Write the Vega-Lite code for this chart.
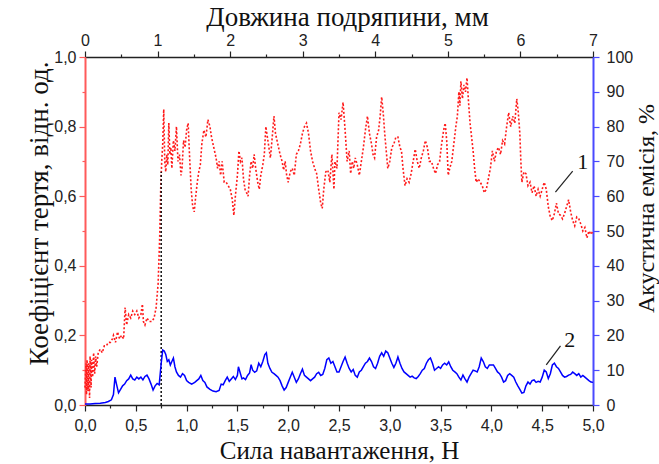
{
  "$schema": "https://vega.github.io/schema/vega-lite/v6.json",
  "width": 508,
  "height": 348,
  "autosize": "none",
  "padding": {"left": 85, "top": 57, "right": 66, "bottom": 59},
  "config": {
    "locale": {"number": {"decimal": ",", "thousands": " ", "grouping": [3], "currency": ["", ""]}},
    "view": {"stroke": null},
    "axis": {
      "grid": false,
      "labelFont": "Liberation Sans",
      "labelFontSize": 16,
      "labelColor": "#222222",
      "labelFlush": false,
      "labelOverlap": false,
      "titleFont": "Liberation Serif",
      "titleFontSize": 26,
      "titleFontWeight": "normal",
      "titleColor": "#111111",
      "domainColor": "#222222",
      "tickColor": "#222222",
      "domainWidth": 1.5,
      "tickWidth": 1.2,
      "tickSize": 6,
      "labelPadding": 3
    }
  },
  "datasets": {
    "cof": [
      {"n":0.00,"v":0.05},{"n":0.01,"v":0.12},{"n":0.015,"v":0.03},{"n":0.02,"v":0.13},{"n":0.03,"v":0.04},{"n":0.035,"v":0.12},{"n":0.045,"v":0.02},{"n":0.05,"v":0.14},{"n":0.06,"v":0.05},{"n":0.065,"v":0.13},{"n":0.075,"v":0.08},{"n":0.085,"v":0.15},{"n":0.095,"v":0.09},{"n":0.105,"v":0.14},{"n":0.115,"v":0.11},{"n":0.13,"v":0.15},{"n":0.15,"v":0.16},{"n":0.17,"v":0.15},{"n":0.19,"v":0.17},{"n":0.21,"v":0.17},{"n":0.23,"v":0.18},{"n":0.25,"v":0.18},{"n":0.27,"v":0.19},{"n":0.28,"v":0.20},{"n":0.30,"v":0.18},{"n":0.32,"v":0.21},{"n":0.34,"v":0.19},{"n":0.36,"v":0.20},{"n":0.38,"v":0.19},{"n":0.395,"v":0.28},{"n":0.41,"v":0.23},{"n":0.43,"v":0.26},{"n":0.45,"v":0.25},{"n":0.47,"v":0.27},{"n":0.49,"v":0.26},{"n":0.51,"v":0.27},{"n":0.53,"v":0.25},{"n":0.55,"v":0.26},{"n":0.565,"v":0.29},{"n":0.575,"v":0.24},{"n":0.59,"v":0.23},{"n":0.61,"v":0.25},{"n":0.63,"v":0.24},{"n":0.66,"v":0.24},{"n":0.68,"v":0.25},{"n":0.70,"v":0.28},{"n":0.72,"v":0.35},{"n":0.735,"v":0.48},{"n":0.745,"v":0.62},{"n":0.755,"v":0.70},{"n":0.765,"v":0.75},{"n":0.775,"v":0.85},{"n":0.785,"v":0.70},{"n":0.795,"v":0.67},{"n":0.805,"v":0.72},{"n":0.815,"v":0.69},{"n":0.825,"v":0.81},{"n":0.835,"v":0.72},{"n":0.845,"v":0.74},{"n":0.855,"v":0.68},{"n":0.87,"v":0.76},{"n":0.885,"v":0.73},{"n":0.90,"v":0.80},{"n":0.915,"v":0.70},{"n":0.93,"v":0.72},{"n":0.945,"v":0.66},{"n":0.955,"v":0.68},{"n":0.97,"v":0.76},{"n":0.985,"v":0.74},{"n":1.00,"v":0.79},{"n":1.015,"v":0.81},{"n":1.03,"v":0.71},{"n":1.045,"v":0.62},{"n":1.06,"v":0.57},{"n":1.075,"v":0.555},{"n":1.09,"v":0.60},{"n":1.105,"v":0.64},{"n":1.12,"v":0.67},{"n":1.135,"v":0.69},{"n":1.15,"v":0.75},{"n":1.17,"v":0.79},{"n":1.19,"v":0.77},{"n":1.21,"v":0.82},{"n":1.23,"v":0.80},{"n":1.245,"v":0.77},{"n":1.26,"v":0.75},{"n":1.275,"v":0.73},{"n":1.29,"v":0.71},{"n":1.305,"v":0.68},{"n":1.32,"v":0.70},{"n":1.335,"v":0.66},{"n":1.35,"v":0.70},{"n":1.37,"v":0.64},{"n":1.39,"v":0.64},{"n":1.41,"v":0.63},{"n":1.43,"v":0.62},{"n":1.45,"v":0.59},{"n":1.465,"v":0.545},{"n":1.48,"v":0.60},{"n":1.50,"v":0.66},{"n":1.515,"v":0.73},{"n":1.53,"v":0.70},{"n":1.545,"v":0.71},{"n":1.56,"v":0.65},{"n":1.575,"v":0.62},{"n":1.59,"v":0.61},{"n":1.605,"v":0.60},{"n":1.62,"v":0.66},{"n":1.635,"v":0.70},{"n":1.65,"v":0.68},{"n":1.665,"v":0.72},{"n":1.68,"v":0.68},{"n":1.70,"v":0.64},{"n":1.715,"v":0.62},{"n":1.73,"v":0.66},{"n":1.75,"v":0.69},{"n":1.765,"v":0.72},{"n":1.78,"v":0.80},{"n":1.795,"v":0.77},{"n":1.81,"v":0.74},{"n":1.825,"v":0.71},{"n":1.84,"v":0.76},{"n":1.86,"v":0.83},{"n":1.875,"v":0.78},{"n":1.89,"v":0.76},{"n":1.905,"v":0.74},{"n":1.92,"v":0.72},{"n":1.94,"v":0.70},{"n":1.955,"v":0.675},{"n":1.97,"v":0.70},{"n":1.985,"v":0.66},{"n":2.00,"v":0.64},{"n":2.02,"v":0.67},{"n":2.04,"v":0.68},{"n":2.06,"v":0.66},{"n":2.08,"v":0.72},{"n":2.10,"v":0.73},{"n":2.12,"v":0.75},{"n":2.14,"v":0.78},{"n":2.16,"v":0.80},{"n":2.18,"v":0.81},{"n":2.20,"v":0.78},{"n":2.22,"v":0.73},{"n":2.24,"v":0.70},{"n":2.26,"v":0.68},{"n":2.28,"v":0.665},{"n":2.30,"v":0.62},{"n":2.32,"v":0.58},{"n":2.335,"v":0.565},{"n":2.35,"v":0.62},{"n":2.37,"v":0.67},{"n":2.39,"v":0.675},{"n":2.41,"v":0.64},{"n":2.43,"v":0.72},{"n":2.45,"v":0.62},{"n":2.46,"v":0.70},{"n":2.48,"v":0.68},{"n":2.50,"v":0.84},{"n":2.52,"v":0.82},{"n":2.54,"v":0.87},{"n":2.56,"v":0.79},{"n":2.58,"v":0.70},{"n":2.60,"v":0.73},{"n":2.615,"v":0.665},{"n":2.63,"v":0.70},{"n":2.645,"v":0.68},{"n":2.66,"v":0.71},{"n":2.68,"v":0.69},{"n":2.70,"v":0.66},{"n":2.72,"v":0.70},{"n":2.74,"v":0.74},{"n":2.76,"v":0.79},{"n":2.78,"v":0.83},{"n":2.80,"v":0.78},{"n":2.82,"v":0.75},{"n":2.835,"v":0.72},{"n":2.85,"v":0.71},{"n":2.87,"v":0.77},{"n":2.89,"v":0.79},{"n":2.905,"v":0.83},{"n":2.92,"v":0.885},{"n":2.935,"v":0.84},{"n":2.95,"v":0.78},{"n":2.965,"v":0.73},{"n":2.98,"v":0.68},{"n":3.00,"v":0.70},{"n":3.02,"v":0.74},{"n":3.04,"v":0.75},{"n":3.06,"v":0.77},{"n":3.08,"v":0.77},{"n":3.10,"v":0.74},{"n":3.115,"v":0.73},{"n":3.13,"v":0.68},{"n":3.15,"v":0.63},{"n":3.17,"v":0.65},{"n":3.19,"v":0.64},{"n":3.21,"v":0.665},{"n":3.23,"v":0.70},{"n":3.25,"v":0.735},{"n":3.27,"v":0.70},{"n":3.29,"v":0.68},{"n":3.31,"v":0.71},{"n":3.33,"v":0.73},{"n":3.35,"v":0.76},{"n":3.37,"v":0.74},{"n":3.39,"v":0.70},{"n":3.41,"v":0.70},{"n":3.43,"v":0.68},{"n":3.45,"v":0.665},{"n":3.47,"v":0.69},{"n":3.49,"v":0.70},{"n":3.51,"v":0.75},{"n":3.53,"v":0.79},{"n":3.545,"v":0.81},{"n":3.56,"v":0.76},{"n":3.575,"v":0.66},{"n":3.59,"v":0.68},{"n":3.61,"v":0.70},{"n":3.63,"v":0.75},{"n":3.65,"v":0.80},{"n":3.665,"v":0.83},{"n":3.68,"v":0.90},{"n":3.69,"v":0.86},{"n":3.70,"v":0.93},{"n":3.715,"v":0.88},{"n":3.73,"v":0.92},{"n":3.745,"v":0.90},{"n":3.76,"v":0.94},{"n":3.775,"v":0.87},{"n":3.79,"v":0.81},{"n":3.805,"v":0.77},{"n":3.82,"v":0.73},{"n":3.835,"v":0.68},{"n":3.85,"v":0.64},{"n":3.87,"v":0.65},{"n":3.89,"v":0.64},{"n":3.91,"v":0.63},{"n":3.93,"v":0.61},{"n":3.95,"v":0.62},{"n":3.97,"v":0.65},{"n":3.99,"v":0.68},{"n":4.01,"v":0.73},{"n":4.03,"v":0.70},{"n":4.05,"v":0.73},{"n":4.07,"v":0.74},{"n":4.09,"v":0.72},{"n":4.11,"v":0.76},{"n":4.13,"v":0.75},{"n":4.15,"v":0.80},{"n":4.17,"v":0.84},{"n":4.19,"v":0.80},{"n":4.21,"v":0.83},{"n":4.23,"v":0.81},{"n":4.25,"v":0.88},{"n":4.265,"v":0.84},{"n":4.28,"v":0.78},{"n":4.29,"v":0.70},{"n":4.30,"v":0.64},{"n":4.32,"v":0.67},{"n":4.34,"v":0.665},{"n":4.36,"v":0.63},{"n":4.38,"v":0.64},{"n":4.40,"v":0.61},{"n":4.42,"v":0.63},{"n":4.44,"v":0.60},{"n":4.46,"v":0.62},{"n":4.48,"v":0.60},{"n":4.50,"v":0.62},{"n":4.52,"v":0.64},{"n":4.54,"v":0.62},{"n":4.56,"v":0.57},{"n":4.58,"v":0.54},{"n":4.60,"v":0.53},{"n":4.62,"v":0.55},{"n":4.64,"v":0.58},{"n":4.66,"v":0.55},{"n":4.68,"v":0.545},{"n":4.70,"v":0.535},{"n":4.72,"v":0.55},{"n":4.74,"v":0.57},{"n":4.76,"v":0.59},{"n":4.78,"v":0.555},{"n":4.80,"v":0.53},{"n":4.82,"v":0.515},{"n":4.84,"v":0.54},{"n":4.86,"v":0.535},{"n":4.88,"v":0.52},{"n":4.90,"v":0.50},{"n":4.92,"v":0.51},{"n":4.94,"v":0.48},{"n":4.96,"v":0.50},{"n":4.98,"v":0.49},{"n":5.00,"v":0.50}
    ],
    "ae": [
      {"n":0.00,"v":0.3},{"n":0.05,"v":0.3},{"n":0.10,"v":0.4},{"n":0.15,"v":0.5},{"n":0.20,"v":0.7},{"n":0.23,"v":1.0},{"n":0.26,"v":1.5},{"n":0.28,"v":3},{"n":0.295,"v":8},{"n":0.31,"v":6},{"n":0.33,"v":3.5},{"n":0.35,"v":4.5},{"n":0.37,"v":5.5},{"n":0.39,"v":6},{"n":0.41,"v":7},{"n":0.43,"v":7.5},{"n":0.45,"v":8.6},{"n":0.47,"v":7.5},{"n":0.49,"v":7.2},{"n":0.51,"v":8},{"n":0.53,"v":7.5},{"n":0.55,"v":8},{"n":0.57,"v":7.2},{"n":0.59,"v":8.2},{"n":0.61,"v":8.6},{"n":0.63,"v":7.5},{"n":0.65,"v":6},{"n":0.67,"v":4.3},{"n":0.69,"v":5.5},{"n":0.71,"v":6.2},{"n":0.73,"v":5.8},{"n":0.75,"v":12},{"n":0.765,"v":15.8},{"n":0.78,"v":15.5},{"n":0.795,"v":14.5},{"n":0.81,"v":12.5},{"n":0.825,"v":13},{"n":0.84,"v":11.5},{"n":0.855,"v":12.5},{"n":0.87,"v":13.5},{"n":0.885,"v":11},{"n":0.90,"v":9.5},{"n":0.92,"v":8.5},{"n":0.94,"v":8},{"n":0.96,"v":9},{"n":0.98,"v":8.5},{"n":1.00,"v":7},{"n":1.02,"v":6.5},{"n":1.05,"v":6},{"n":1.08,"v":6.5},{"n":1.10,"v":7},{"n":1.12,"v":7.5},{"n":1.14,"v":8.5},{"n":1.16,"v":7},{"n":1.18,"v":6.5},{"n":1.20,"v":5.2},{"n":1.23,"v":4.5},{"n":1.26,"v":4},{"n":1.29,"v":3.8},{"n":1.32,"v":4.2},{"n":1.34,"v":6},{"n":1.36,"v":5.8},{"n":1.38,"v":7},{"n":1.40,"v":8},{"n":1.42,"v":6.8},{"n":1.44,"v":7.5},{"n":1.46,"v":8.2},{"n":1.48,"v":7.3},{"n":1.50,"v":8.5},{"n":1.51,"v":11},{"n":1.53,"v":9},{"n":1.545,"v":7.5},{"n":1.56,"v":7.8},{"n":1.58,"v":7.3},{"n":1.60,"v":8.5},{"n":1.62,"v":9.2},{"n":1.635,"v":11.6},{"n":1.65,"v":10},{"n":1.67,"v":9.4},{"n":1.69,"v":9.8},{"n":1.71,"v":12},{"n":1.73,"v":11},{"n":1.75,"v":12.5},{"n":1.77,"v":14.5},{"n":1.785,"v":15},{"n":1.80,"v":12},{"n":1.82,"v":10.5},{"n":1.84,"v":9.4},{"n":1.86,"v":9},{"n":1.88,"v":8.5},{"n":1.90,"v":8},{"n":1.92,"v":7},{"n":1.94,"v":5.5},{"n":1.96,"v":4.3},{"n":1.98,"v":5},{"n":2.00,"v":6.5},{"n":2.02,"v":8},{"n":2.04,"v":9.4},{"n":2.06,"v":8},{"n":2.08,"v":6.5},{"n":2.10,"v":7.5},{"n":2.12,"v":9},{"n":2.14,"v":10.3},{"n":2.16,"v":8.5},{"n":2.18,"v":8},{"n":2.20,"v":7.5},{"n":2.22,"v":7},{"n":2.24,"v":7.5},{"n":2.26,"v":8},{"n":2.28,"v":9},{"n":2.30,"v":9.4},{"n":2.32,"v":8.5},{"n":2.34,"v":8.8},{"n":2.36,"v":10.5},{"n":2.38,"v":13},{"n":2.40,"v":13.5},{"n":2.42,"v":12},{"n":2.44,"v":12.5},{"n":2.46,"v":11},{"n":2.48,"v":9.5},{"n":2.50,"v":9.5},{"n":2.52,"v":11},{"n":2.54,"v":12.5},{"n":2.56,"v":13.8},{"n":2.58,"v":12},{"n":2.60,"v":10.5},{"n":2.62,"v":9.5},{"n":2.64,"v":10.2},{"n":2.66,"v":8.5},{"n":2.68,"v":8},{"n":2.70,"v":9.5},{"n":2.72,"v":10},{"n":2.74,"v":11},{"n":2.76,"v":12},{"n":2.78,"v":12.5},{"n":2.80,"v":13.5},{"n":2.82,"v":12.5},{"n":2.84,"v":11},{"n":2.86,"v":10.5},{"n":2.88,"v":12},{"n":2.90,"v":14},{"n":2.92,"v":15},{"n":2.94,"v":14},{"n":2.96,"v":15.5},{"n":2.98,"v":15},{"n":3.00,"v":13.5},{"n":3.02,"v":12},{"n":3.04,"v":10.8},{"n":3.06,"v":12},{"n":3.08,"v":13.8},{"n":3.10,"v":12},{"n":3.12,"v":10.5},{"n":3.14,"v":9.5},{"n":3.16,"v":9},{"n":3.18,"v":8.5},{"n":3.20,"v":8},{"n":3.22,"v":8.3},{"n":3.24,"v":7.8},{"n":3.26,"v":7.6},{"n":3.28,"v":8.2},{"n":3.30,"v":9},{"n":3.32,"v":10},{"n":3.34,"v":10.5},{"n":3.36,"v":12},{"n":3.38,"v":13},{"n":3.40,"v":13.5},{"n":3.42,"v":12},{"n":3.44,"v":10},{"n":3.46,"v":10.5},{"n":3.48,"v":11},{"n":3.50,"v":10.5},{"n":3.52,"v":11.5},{"n":3.54,"v":12},{"n":3.56,"v":11.5},{"n":3.58,"v":12.4},{"n":3.60,"v":11},{"n":3.62,"v":10},{"n":3.64,"v":9.5},{"n":3.66,"v":9},{"n":3.68,"v":8},{"n":3.70,"v":7.2},{"n":3.72,"v":8.6},{"n":3.74,"v":7.5},{"n":3.76,"v":6.6},{"n":3.78,"v":8},{"n":3.80,"v":9},{"n":3.82,"v":10},{"n":3.84,"v":9.8},{"n":3.86,"v":9.5},{"n":3.88,"v":11},{"n":3.90,"v":13.5},{"n":3.92,"v":12.5},{"n":3.94,"v":11},{"n":3.96,"v":10.5},{"n":3.98,"v":11.5},{"n":4.00,"v":11.5},{"n":4.02,"v":11.5},{"n":4.04,"v":10.5},{"n":4.06,"v":9.5},{"n":4.08,"v":9},{"n":4.10,"v":8},{"n":4.12,"v":6.6},{"n":4.14,"v":7},{"n":4.16,"v":8.5},{"n":4.18,"v":9},{"n":4.20,"v":8.5},{"n":4.22,"v":8},{"n":4.24,"v":6.6},{"n":4.26,"v":5.5},{"n":4.28,"v":4.5},{"n":4.30,"v":3.4},{"n":4.32,"v":3.6},{"n":4.34,"v":5.5},{"n":4.36,"v":6.6},{"n":4.38,"v":6},{"n":4.40,"v":7},{"n":4.42,"v":7.2},{"n":4.44,"v":6.5},{"n":4.46,"v":6.8},{"n":4.48,"v":6.6},{"n":4.50,"v":8},{"n":4.52,"v":10},{"n":4.54,"v":9.5},{"n":4.56,"v":7.6},{"n":4.58,"v":9},{"n":4.60,"v":11.5},{"n":4.62,"v":12},{"n":4.64,"v":11},{"n":4.66,"v":10.5},{"n":4.68,"v":9.5},{"n":4.70,"v":8.5},{"n":4.72,"v":8},{"n":4.74,"v":8.2},{"n":4.76,"v":8.6},{"n":4.78,"v":8.8},{"n":4.80,"v":9.5},{"n":4.82,"v":9},{"n":4.84,"v":8.5},{"n":4.86,"v":9},{"n":4.88,"v":8},{"n":4.90,"v":8.5},{"n":4.92,"v":8},{"n":4.94,"v":7.5},{"n":4.96,"v":7},{"n":4.98,"v":6.6},{"n":5.00,"v":6.5}
    ],
    "vline": [{"n": 0.75, "v": 0, "v2": 0.67}],
    "leads": [{"n": 4.63, "v": 0.612, "n2": 4.80, "v2": 0.672}, {"n": 4.54, "v": 0.115, "n2": 4.68, "v2": 0.17}],
    "labs": [{"n": 4.90, "v": 0.698, "t": "1"}, {"n": 4.77, "v": 0.188, "t": "2"}],
    "dummy": [{"a": 0}]
  },
  "layer": [
    {
      "layer": [
        {
          "data": {"name": "cof"},
          "mark": {"type": "line", "color": "#ff1a1a", "strokeWidth": 1.6, "strokeDash": [2, 2]},
          "encoding": {
            "x": {"field": "n", "type": "quantitative",
                  "scale": {"domain": [0, 5], "nice": false, "zero": false},
                  "axis": {"orient": "bottom", "values": [0,0.5,1,1.5,2,2.5,3,3.5,4,4.5,5], "format": ".1f", "title": "Сила навантаження, Н", "titleFontSize": 25, "labelPadding": 6, "titlePadding": 5}},
            "y": {"field": "v", "type": "quantitative",
                  "scale": {"domain": [0, 1], "nice": false},
                  "axis": {"orient": "left", "values": [0,0.2,0.4,0.6,0.8,1.0], "format": ".1f", "title": "Коефіцієнт тертя, відн. од.", "titleFontSize": 27, "titleY": 156, "domainColor": "#ff5a5a", "tickColor": "#ff5a5a", "domainWidth": 2, "titlePadding": 0}}
          }
        },
        {
          "data": {"name": "vline"},
          "mark": {"type": "rule", "color": "#111111", "strokeWidth": 1.5, "strokeDash": [2, 2]},
          "encoding": {
            "x": {"field": "n", "type": "quantitative"},
            "y": {"field": "v", "type": "quantitative"},
            "y2": {"field": "v2"}
          }
        },
        {
          "data": {"name": "leads"},
          "mark": {"type": "rule", "color": "#222222", "strokeWidth": 1.2},
          "encoding": {
            "x": {"field": "n", "type": "quantitative"},
            "y": {"field": "v", "type": "quantitative"},
            "x2": {"field": "n2"},
            "y2": {"field": "v2"}
          }
        },
        {
          "data": {"name": "labs"},
          "mark": {"type": "text", "font": "Liberation Serif", "fontSize": 22, "color": "#111111", "align": "center", "baseline": "middle"},
          "encoding": {
            "x": {"field": "n", "type": "quantitative"},
            "y": {"field": "v", "type": "quantitative"},
            "text": {"field": "t"}
          }
        }
      ]
    },
    {
      "data": {"name": "ae"},
      "mark": {"type": "line", "color": "#0000ff", "strokeWidth": 1.5},
      "encoding": {
        "x": {"field": "n", "type": "quantitative",
              "scale": {"domain": [0, 5], "nice": false, "zero": false},
              "axis": null},
        "y": {"field": "v", "type": "quantitative",
              "scale": {"domain": [0, 100], "nice": false},
              "axis": {"orient": "right", "values": [0,10,20,30,40,50,60,70,80,90,100], "tickCount": 11, "labelOverlap": false, "title": "Акустична емісія, %", "titleFontSize": 24, "titleX": 41, "titleY": 151, "domainColor": "#4a4aff", "tickColor": "#4a4aff", "domainWidth": 2, "labelPadding": 7, "titleAngle": 270, "titleBaseline": "top", "titleAlign": "center"}}
      }
    },
    {
      "data": {"name": "dummy"},
      "mark": {"type": "point", "opacity": 0},
      "encoding": {
        "x": {"field": "a", "type": "quantitative",
              "scale": {"domain": [0, 7], "nice": false, "zero": false},
              "axis": {"orient": "top", "values": [0,1,2,3,4,5,6,7], "format": "d", "title": "Довжина подряпини, мм", "titleFontSize": 27, "titleX": 262, "titlePadding": 1}}
      }
    },
    {
      "data": {"name": "dummy"},
      "mark": {"type": "point", "opacity": 0},
      "encoding": {
        "x": {"field": "a", "type": "quantitative",
              "scale": {"domain": [0, 7], "nice": false, "zero": false},
              "axis": {"orient": "top", "values": [0.5,1.5,2.5,3.5,4.5,5.5,6.5], "labels": false, "domain": false, "tickSize": 3, "title": null}}
      }
    },
    {
      "data": {"name": "dummy"},
      "mark": {"type": "point", "opacity": 0},
      "encoding": {
        "x": {"field": "a", "type": "quantitative",
              "scale": {"domain": [0, 5], "nice": false, "zero": false},
              "axis": {"orient": "bottom", "values": [0.25,0.75,1.25,1.75,2.25,2.75,3.25,3.75,4.25,4.75], "labels": false, "domain": false, "tickSize": 3, "title": null}}
      }
    },
    {
      "data": {"name": "dummy"},
      "mark": {"type": "point", "opacity": 0},
      "encoding": {
        "y": {"field": "a", "type": "quantitative",
              "scale": {"domain": [0, 1], "nice": false, "zero": false},
              "axis": {"orient": "left", "values": [0.1,0.3,0.5,0.7,0.9], "labels": false, "domain": false, "tickSize": 3, "tickColor": "#ff5a5a", "title": null}}
      }
    }
  ],
  "resolve": {"scale": {"x": "independent", "y": "independent"}}
}
